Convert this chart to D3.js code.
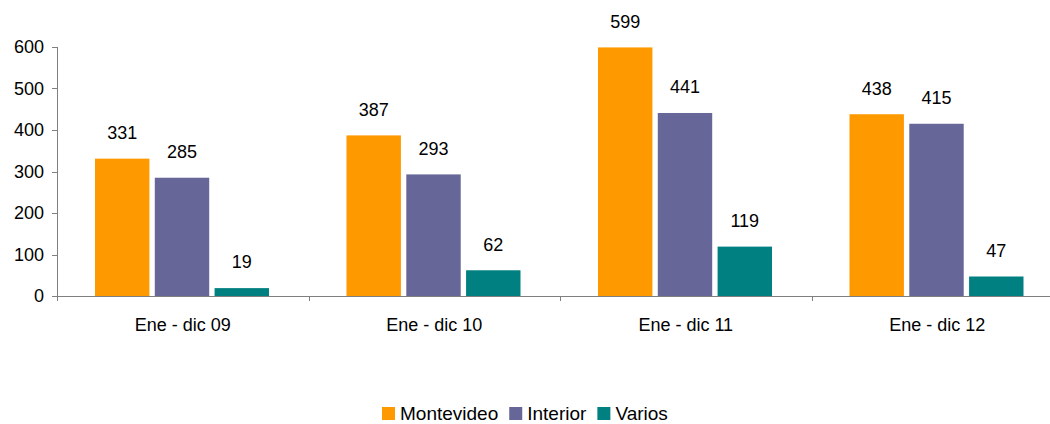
<!DOCTYPE html>
<html>
<head>
<meta charset="utf-8">
<script src="https://cdn.jsdelivr.net/npm/d3@7"></script>
<style>
  body { margin: 0; background: #fff; }
  text { font-family: "Liberation Sans", Arial, sans-serif; fill: #000; }
</style>
</head>
<body>
<div id="chart"></div>
<script>
const categories = ["Ene - dic 09", "Ene - dic 10", "Ene - dic 11", "Ene - dic 12"];
const seriesNames = ["Montevideo", "Interior", "Varios"];
const montevideo = [331, 387, 599, 438];
const interior = [285, 293, 441, 415];
const varios = [19, 62, 119, 47];
const yTicks = [0, 100, 200, 300, 400, 500, 600];

const colors = { "Montevideo": "#ff9900", "Interior": "#666699", "Varios": "#008080" };

const W = 1050, H = 424;
const margin = { top: 47, right: 0, bottom: 128, left: 57 };
const width = W - margin.left - margin.right,
      height = H - margin.top - margin.bottom;
const fs = "18px";

const values = { "Montevideo": montevideo, "Interior": interior, "Varios": varios };
const data = categories.map((c, i) => ({
    cat: c,
    vals: seriesNames.map(s => ({ key: s, value: values[s][i] }))
}));

const svg = d3.select("#chart").append("svg")
    .attr("width", W).attr("height", H);
const g = svg.append("g").attr("transform", `translate(${margin.left},${margin.top})`);

const x = d3.scaleBand().domain(categories).range([0, 251.5 * 4]);
const x1 = d3.scaleBand().domain(seriesNames).range([38, 38 + 174]).paddingInner(0.09);
const y = d3.scaleLinear().domain([0, 600]).range([height, 0]);

// y axis
g.append("line").attr("x1", 0.5).attr("x2", 0.5).attr("y1", 0).attr("y2", height)
    .attr("stroke", "#808080");
yTicks.forEach(t => {
    g.append("line").attr("x1", -5).attr("x2", 0.5)
        .attr("y1", Math.round(y(t)) + 0.5).attr("y2", Math.round(y(t)) + 0.5)
        .attr("stroke", "#808080");
    g.append("text").attr("x", -13).attr("y", y(t)).attr("dy", "0.35em")
        .attr("text-anchor", "end").style("font-size", fs).text(t);
});

// x axis
g.append("line").attr("x1", 0).attr("x2", width).attr("y1", height + 0.5).attr("y2", height + 0.5)
    .attr("stroke", "#808080");
categories.forEach(c => {
    const tx = Math.round(x(c)) + 0.5;
    g.append("line").attr("x1", tx).attr("x2", tx).attr("y1", height).attr("y2", height + 5)
        .attr("stroke", "#808080");
    g.append("text").attr("x", x(c) + x.bandwidth() / 2).attr("y", height + 29)
        .attr("dy", "0.35em").attr("text-anchor", "middle").style("font-size", fs).text(c);
});

// bars
const groups = g.selectAll(".grp").data(data).enter().append("g")
    .attr("transform", d => `translate(${x(d.cat)},0)`);
groups.selectAll("rect").data(d => d.vals).enter().append("rect")
    .attr("x", d => x1(d.key))
    .attr("width", x1.bandwidth())
    .attr("y", d => y(d.value))
    .attr("height", d => height - y(d.value))
    .attr("fill", d => colors[d.key]);
groups.selectAll(".lbl").data(d => d.vals).enter().append("text")
    .attr("x", d => x1(d.key) + x1.bandwidth() / 2)
    .attr("y", d => y(d.value) - 26)
    .attr("dy", "0.35em")
    .attr("text-anchor", "middle")
    .style("font-size", fs)
    .text(d => d.value);

// legend
const legend = svg.append("g");
let lx = 0;
seriesNames.forEach(s => {
    const item = legend.append("g").attr("transform", `translate(${lx},0)`);
    item.append("rect").attr("x", 0).attr("y", -6).attr("width", 13).attr("height", 13).attr("fill", colors[s]);
    const t = item.append("text").attr("x", 18).attr("y", 0).attr("dy", "0.36em")
        .style("font-size", "19px").text(s);
    lx += 18 + t.node().getComputedTextLength() + 11;
});
legend.attr("transform", `translate(${Math.round((W - (lx - 11)) / 2)},413)`);
</script>
</body>
</html>
